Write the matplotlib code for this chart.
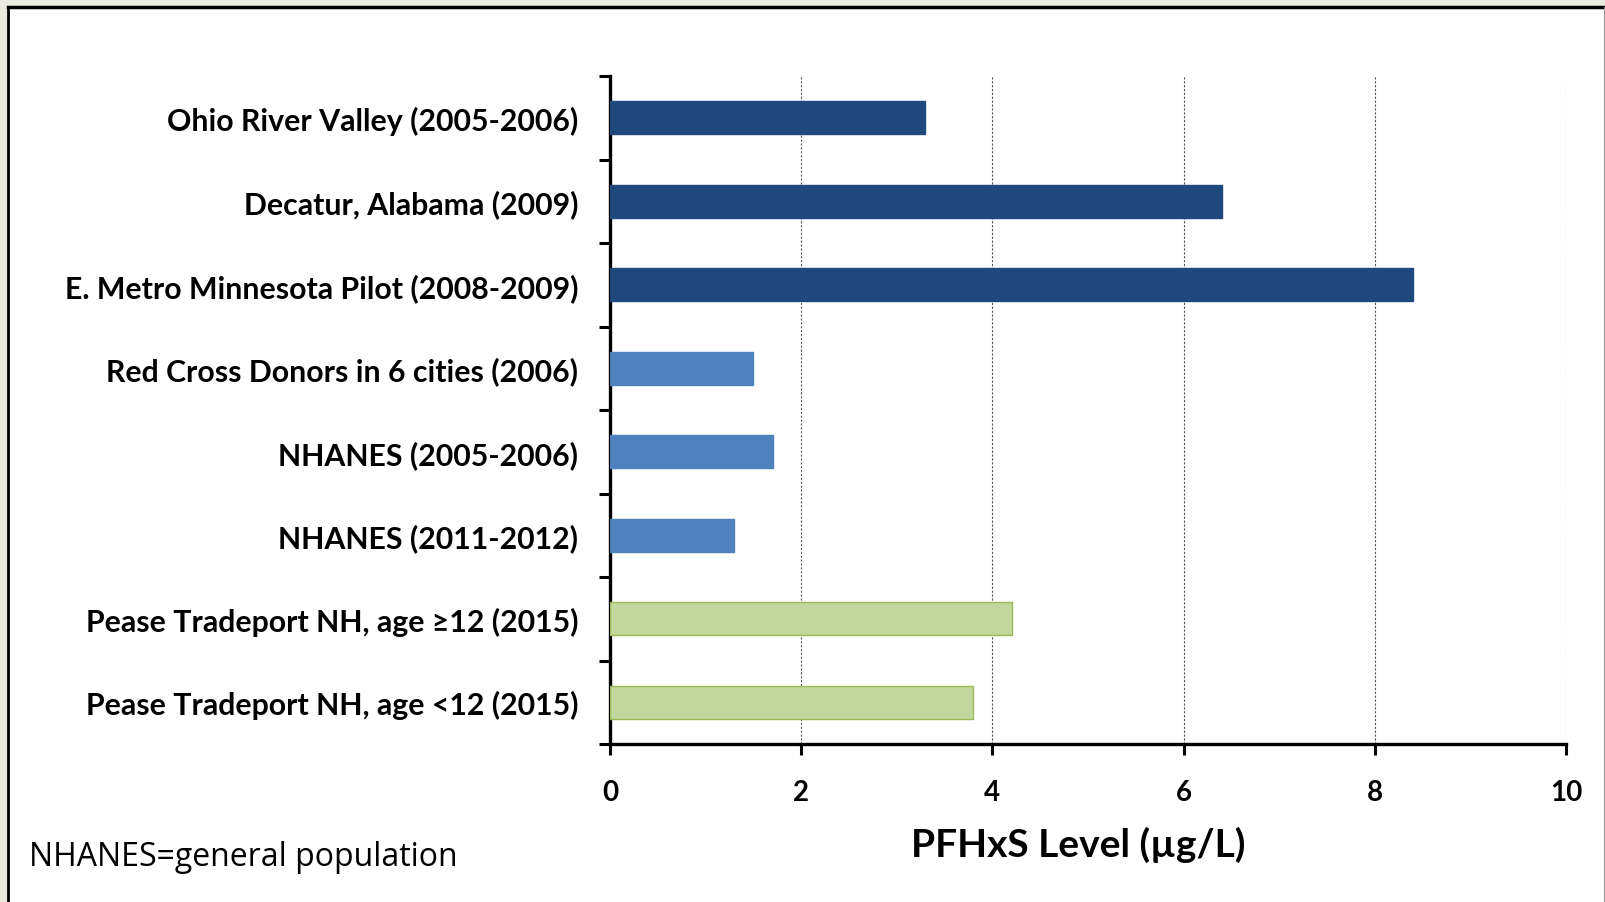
import matplotlib
matplotlib.use("Agg")
import matplotlib.pyplot as plt
from matplotlib.patches import Rectangle

categories = [
    "Ohio River Valley (2005-2006)",
    "Decatur, Alabama (2009)",
    "E. Metro Minnesota Pilot (2008-2009)",
    "Red Cross Donors in 6 cities (2006)",
    "NHANES (2005-2006)",
    "NHANES (2011-2012)",
    "Pease Tradeport NH, age \u226512 (2015)",
    "Pease Tradeport NH, age <12 (2015)",
]
values = [3.3, 6.4, 8.4, 1.5, 1.7, 1.3, 4.2, 3.8]
colors = ["#1F497D", "#1F497D", "#1F497D", "#4F81BD", "#4F81BD", "#4F81BD", "#C3D69B", "#C3D69B"]
edges = ["#1F497D", "#1F497D", "#1F497D", "#4F81BD", "#4F81BD", "#4F81BD", "#9BBB59", "#9BBB59"]
xticks = [0, 2, 4, 6, 8, 10]
xlabel = "PFHxS Level (\u00b5g/L)"
note = "NHANES=general population"

plt.rcParams['font.family'] = ['Lato', 'DejaVu Sans']

W, H = 1605, 903
fig = plt.figure(figsize=(W / 100, H / 100), dpi=100)
fig.patch.set_facecolor("#EBEBE0")
# white panel with border
panel = Rectangle((8 / W, 0), (1604 - 8) / W, (H - 8) / H, transform=fig.transFigure,
                  facecolor="white", edgecolor="none", zorder=-10)
fig.patches.append(panel)
fig.add_artist(plt.Line2D([8 / W, 1604 / W], [1 - 8 / H, 1 - 8 / H], transform=fig.transFigure,
                          color="black", lw=2.5, zorder=-5))
fig.add_artist(plt.Line2D([8 / W, 8 / W], [0, 1 - 8 / H], transform=fig.transFigure,
                          color="black", lw=2.0, zorder=-5))
fig.add_artist(plt.Line2D([1603.5 / W, 1603.5 / W], [0, 1 - 8 / H], transform=fig.transFigure,
                          color="#999999", lw=0.8, zorder=-5))

ax = fig.add_axes([610 / W, 1 - 745 / H, (1566 - 610) / W, (745 - 77) / H])
ax.set_zorder(5)
ax.set_facecolor("none")
y = list(range(len(categories)))
ax.barh(y, values, height=0.4, color=colors, edgecolor=edges, linewidth=1.0, zorder=3)
ax.set_ylim(len(categories) - 0.5, -0.5)
ax.set_xlim(0, 10)
ax.set_xticks(xticks)
ax.set_xticklabels([str(t) for t in xticks], fontsize=20, fontweight="bold")
ax.set_yticks(y)
ax.set_yticklabels(categories, fontsize=21.8, fontweight="bold")
ax.set_yticks([i - 0.5 for i in range(len(categories) + 1)], minor=True)
ax.tick_params(axis="y", which="major", length=0, pad=23)
ax.tick_params(axis="y", which="minor", length=8, width=2.2, direction="out")
ax.tick_params(axis="x", which="major", length=8, width=2.2, direction="out", pad=17)
for s in ["top", "right"]:
    ax.spines[s].set_visible(False)
for s in ["left", "bottom"]:
    ax.spines[s].set_linewidth(2.4)
ax.xaxis.grid(True, color="#555555", linestyle=(0, (2, 1.5)), linewidth=0.8, zorder=0)
ax.set_axisbelow(True)
ax.set_xlabel(xlabel, fontsize=28, fontweight="bold", va="center")
ax.xaxis.set_label_coords(0.49, -0.150)

fig.text(29 / W, 1 - 858 / H, note, fontsize=23, va="center", ha="left",
         family=["Open Sans", "DejaVu Sans"])

fig.savefig("out.png", dpi=100)
